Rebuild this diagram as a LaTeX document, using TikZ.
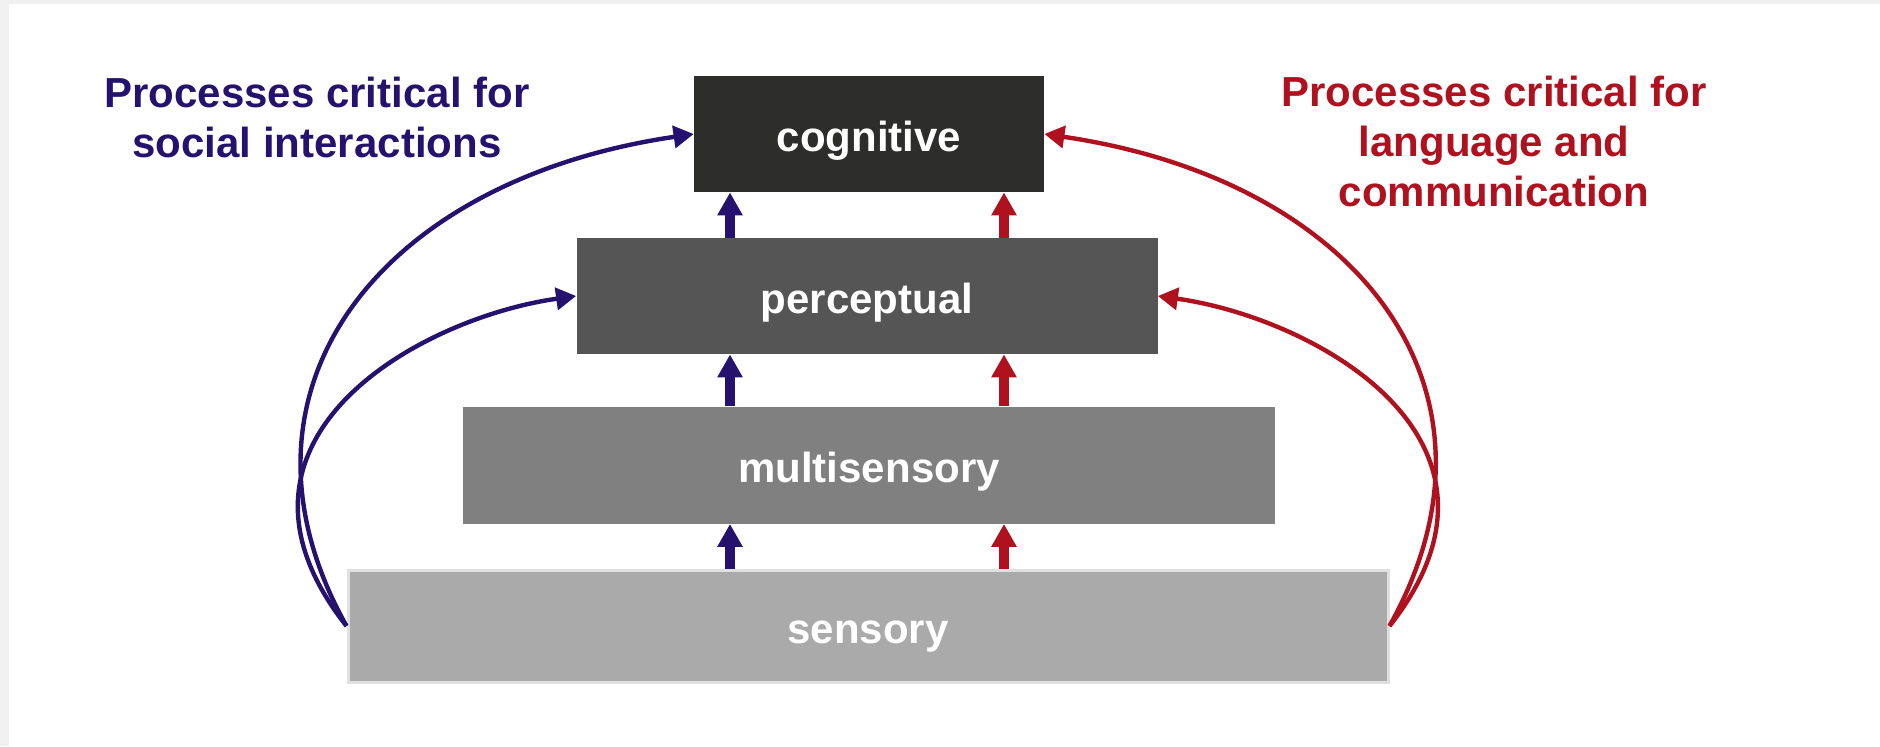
\documentclass[tikz,border=0pt]{standalone}
\usepackage{fontspec}
\setmainfont{Liberation Sans}
\usetikzlibrary{arrows.meta}
\definecolor{socialblue}{HTML}{24126E}
\definecolor{langred}{HTML}{AF121E}
\definecolor{lvlcog}{HTML}{2D2D2B}
\definecolor{lvlper}{HTML}{555555}
\definecolor{lvlmulti}{HTML}{808080}
\definecolor{lvlsens}{HTML}{AAAAAA}
\definecolor{frame}{HTML}{F0F0F0}

\begin{document}
\begin{tikzpicture}[x=.5pt,y=-.5pt,font=\fontsize{21}{25}\selectfont\bfseries,
  level/.style={inner sep=0pt,minimum height=58pt,text=white,text height=19pt,text depth=2pt},
  up/.style={line width=5pt,-{Triangle[length=11.5pt,width=12pt]}},
  sweep/.style={line width=2.2pt,-{Triangle[length=10pt,width=11pt]}}]
\fill[frame] (0,0) rectangle (1880,746);
\fill[white] (9,4) rectangle (1880,746);
\node[level,fill=lvlcog,minimum width=175pt] (cognitive) at (869,134) {cognitive};
\node[level,fill=lvlper,minimum width=290.5pt] (perceptual) at (867,296) {perceptual};
\node[level,fill=lvlmulti,minimum width=406pt,minimum height=58.5pt] (multisensory) at (869,465) {multisensory};
\node[level,fill=lvlsens,draw=black!12,line width=1.5pt,minimum width=520pt,minimum height=56pt] (sensory) at (868,626) {sensory};
\coordinate (bluecol) at (730,0);
\coordinate (redcol) at (1004,0);
\foreach \lo/\hi in {sensory/multisensory,multisensory/perceptual,perceptual/cognitive}{
  \draw[up,socialblue] (\lo.north -| bluecol) -- (\hi.south -| bluecol);
  \draw[up,langred] (\lo.north -| redcol) -- (\hi.south -| redcol);
}
\draw[sweep,socialblue] (sensory.west) .. controls +(-132,-236) and +(-314,46) .. (cognitive.west);
\draw[sweep,socialblue] (sensory.west) .. controls +(-147,-186) and +(-157,22) .. (perceptual.west);
\draw[sweep,langred] (sensory.east) .. controls +(132,-236) and +(314,46) .. (cognitive.east);
\draw[sweep,langred] (sensory.east) .. controls +(147,-186) and +(157,22) .. (perceptual.east);
\node[text=socialblue,align=center] (social) at (317,117) {Processes critical for\\social interactions};
\node[text=langred,align=center] (language) at (1494,141) {Processes critical for\\language and\\communication};
\end{tikzpicture}
\end{document}
